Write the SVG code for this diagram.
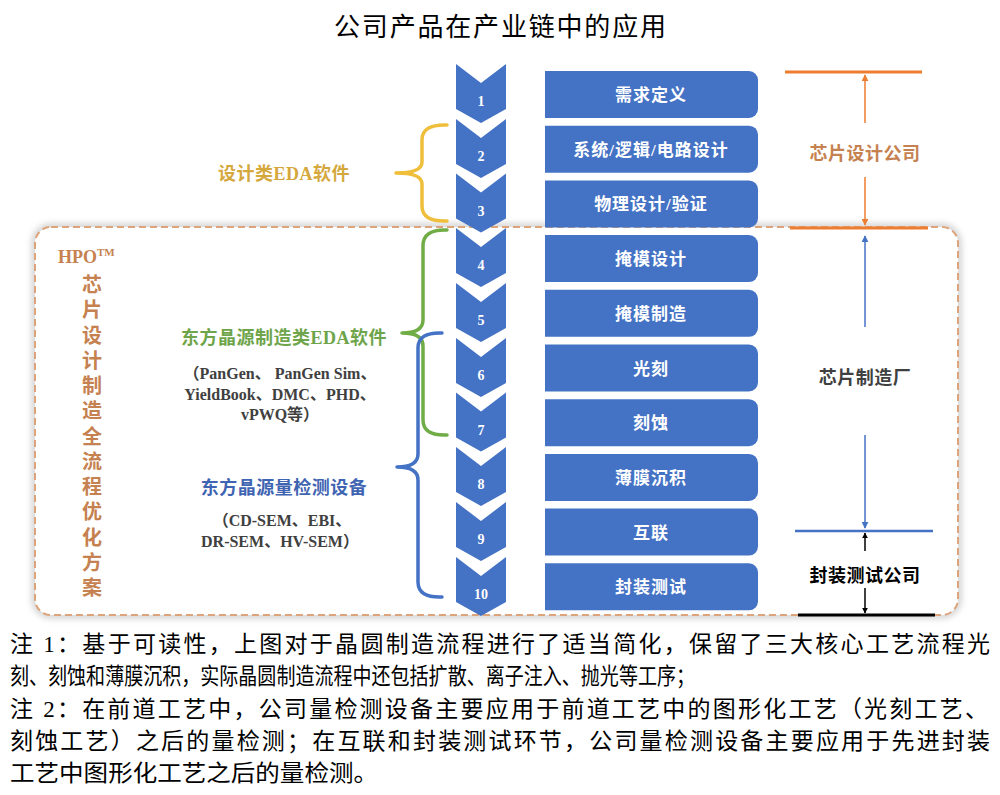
<svg xmlns="http://www.w3.org/2000/svg" width="1000" height="795" viewBox="0 0 1000 795">
<defs>
<style>
.chev{fill:#4472C4}
.box{fill:#4472C4}
.num{font-family:"Liberation Serif","Noto Sans CJK SC",serif;font-weight:bold;font-size:14px;fill:#fff;text-anchor:middle}
.lbl{font-family:"Liberation Serif","Noto Sans CJK SC",serif;font-weight:bold;font-size:17px;fill:#fff;text-anchor:middle;letter-spacing:1px}
.side{font-family:"Liberation Serif","Noto Sans CJK SC",serif;font-weight:bold;font-size:18px;text-anchor:middle;letter-spacing:0.5px}
.sub{font-family:"Liberation Serif","Noto Sans CJK SC",serif;font-weight:bold;font-size:16px;fill:#404040;text-anchor:middle}
.vert{font-family:"Liberation Serif","Noto Sans CJK SC",serif;font-weight:bold;font-size:20px;fill:#C5814F;text-anchor:middle}
.note{font-family:"Liberation Serif","Noto Sans CJK SC",serif;font-size:23px;fill:#000}
.brace{fill:none;stroke-width:3.5;stroke-linecap:round;stroke-linejoin:round}
</style>
<path id="chevShape" d="M0,0 L25,19 L50,0 L50,45 L25,59 L0,45 Z"/>
<path id="boxShape" d="M0,0 H204 A9,9 0 0 1 213,9 V38 A9,9 0 0 1 204,47 H0 Z"/>
<marker id="arrO" viewBox="0 0 10 10" refX="9" refY="5" markerWidth="7" markerHeight="7" markerUnits="userSpaceOnUse" orient="auto"><path d="M0,0 L10,5 L0,10 Z" fill="#ED7D31"/></marker>
<marker id="arrB" viewBox="0 0 10 10" refX="9" refY="5" markerWidth="7" markerHeight="7" markerUnits="userSpaceOnUse" orient="auto"><path d="M0,0 L10,5 L0,10 Z" fill="#4472C4"/></marker>
<marker id="arrK" viewBox="0 0 10 10" refX="9" refY="5" markerWidth="6" markerHeight="6" markerUnits="userSpaceOnUse" orient="auto"><path d="M0,0 L10,5 L0,10 Z" fill="#000"/></marker>
<filter id="shadow" x="-5%" y="-5%" width="110%" height="110%"><feGaussianBlur stdDeviation="3"/></filter>
</defs>
<rect width="1000" height="795" fill="#fff"/>

<text x="500" y="36" font-family="Noto Sans CJK SC, sans-serif" font-size="26" fill="#000" text-anchor="middle" textLength="332" lengthAdjust="spacing">公司产品在产业链中的应用</text>

<g id="hpo-frame">
<rect x="35" y="227" width="923" height="388" rx="16" fill="none" stroke="#d0d0d0" stroke-width="7" filter="url(#shadow)"/>
<rect x="35" y="227" width="923" height="388" rx="16" fill="#fff" stroke="#DDA47C" stroke-width="2" stroke-dasharray="7 4"/>
</g>

<g id="hpo-label">
<text x="58" y="263" font-family="Liberation Serif, serif" font-weight="bold" font-size="18" fill="#C5814F">HPO<tspan dy="-7" font-size="11">TM</tspan></text>
<text class="vert" x="92" y="292">芯</text>
<text class="vert" x="92" y="317">片</text>
<text class="vert" x="92" y="342.5">设</text>
<text class="vert" x="92" y="368">计</text>
<text class="vert" x="92" y="393">制</text>
<text class="vert" x="92" y="418">造</text>
<text class="vert" x="92" y="443.5">全</text>
<text class="vert" x="92" y="469">流</text>
<text class="vert" x="92" y="494">程</text>
<text class="vert" x="92" y="519">优</text>
<text class="vert" x="92" y="544.5">化</text>
<text class="vert" x="92" y="570">方</text>
<text class="vert" x="92" y="595">案</text>
</g>

<g id="step1"><use href="#chevShape" class="chev" x="456" y="64"/><text class="num" x="481" y="106">1</text><use href="#boxShape" class="box" x="545" y="71"/><text class="lbl" x="651" y="101">需求定义</text></g>
<g id="step2"><use href="#chevShape" class="chev" x="456" y="119"/><text class="num" x="481" y="161">2</text><use href="#boxShape" class="box" x="545" y="125.7"/><text class="lbl" x="651" y="155.7">系统/逻辑/电路设计</text></g>
<g id="step3"><use href="#chevShape" class="chev" x="456" y="173.5"/><text class="num" x="481" y="215.5">3</text><use href="#boxShape" class="box" x="545" y="180.4"/><text class="lbl" x="651" y="210.4">物理设计/验证</text></g>
<g id="step4"><use href="#chevShape" class="chev" x="456" y="228"/><text class="num" x="481" y="270">4</text><use href="#boxShape" class="box" x="545" y="235.1"/><text class="lbl" x="651" y="265.1">掩模设计</text></g>
<g id="step5"><use href="#chevShape" class="chev" x="456" y="283"/><text class="num" x="481" y="325">5</text><use href="#boxShape" class="box" x="545" y="289.8"/><text class="lbl" x="651" y="319.8">掩模制造</text></g>
<g id="step6"><use href="#chevShape" class="chev" x="456" y="338"/><text class="num" x="481" y="380">6</text><use href="#boxShape" class="box" x="545" y="344.5"/><text class="lbl" x="651" y="374.5">光刻</text></g>
<g id="step7"><use href="#chevShape" class="chev" x="456" y="392.5"/><text class="num" x="481" y="434.5">7</text><use href="#boxShape" class="box" x="545" y="399.2"/><text class="lbl" x="651" y="429.2">刻蚀</text></g>
<g id="step8"><use href="#chevShape" class="chev" x="456" y="447"/><text class="num" x="481" y="489">8</text><use href="#boxShape" class="box" x="545" y="453.9"/><text class="lbl" x="651" y="483.9">薄膜沉积</text></g>
<g id="step9"><use href="#chevShape" class="chev" x="456" y="502"/><text class="num" x="481" y="544">9</text><use href="#boxShape" class="box" x="545" y="508.6"/><text class="lbl" x="651" y="538.6">互联</text></g>
<g id="step10"><use href="#chevShape" class="chev" x="456" y="557"/><text class="num" x="481" y="599">10</text><use href="#boxShape" class="box" x="545" y="563.3"/><text class="lbl" x="651" y="593.3">封装测试</text></g>

<g id="brace-design">
<path class="brace" stroke="#EFBE3A" d="M447,125 Q422,124 422,140 L422,162 Q422,173 396,173 Q422,173 422,184 L422,206 Q422,222 447,221"/>
<text class="side" x="284" y="180" fill="#D4A83C">设计类EDA软件</text>
</g>
<g id="brace-mfg">
<path class="brace" stroke="#70AD47" d="M447,230 Q423,229 423,246 L423,320 Q423,333 402,333 Q423,333 423,346 L423,420 Q423,436 447,435"/>
<text class="side" x="284" y="344" fill="#6EA44A">东方晶源制造类EDA软件</text>
<text class="sub" x="280" y="379">（PanGen、 PanGen Sim、</text>
<text class="sub" x="280" y="400">YieldBook、DMC、PHD、</text>
<text class="sub" x="280" y="420">vPWQ等）</text>
</g>
<g id="brace-metro">
<path class="brace" stroke="#4472C4" d="M442,333 Q418,332 418,348 L418,454 Q418,467 397,467 Q418,467 418,480 L418,582 Q418,598 442,597"/>
<text class="side" x="284" y="494" fill="#3F64B2">东方晶源量检测设备</text>
<text class="sub" x="282" y="526">（CD-SEM、EBI、</text>
<text class="sub" x="280" y="547">DR-SEM、HV-SEM）</text>
</g>

<g id="connectors">
<line x1="785" y1="72" x2="922" y2="72" stroke="#ED7D31" stroke-width="3"/>
<line x1="865" y1="123" x2="865" y2="75" stroke="#ED7D31" stroke-width="1.5" marker-end="url(#arrO)"/>
<line x1="865" y1="177" x2="865" y2="225" stroke="#ED7D31" stroke-width="1.5" marker-end="url(#arrO)"/>
<line x1="790" y1="228" x2="928" y2="228" stroke="#ED7D31" stroke-width="3"/>
<line x1="865" y1="327" x2="865" y2="236" stroke="#4472C4" stroke-width="1.5" marker-end="url(#arrB)"/>
<line x1="865" y1="435" x2="865" y2="528" stroke="#4472C4" stroke-width="1.5" marker-end="url(#arrB)"/>
<line x1="795" y1="531" x2="933" y2="531" stroke="#4472C4" stroke-width="2.5"/>
<line x1="865" y1="551" x2="865" y2="533" stroke="#000" stroke-width="1.5" marker-end="url(#arrK)"/>
<line x1="865" y1="588" x2="865" y2="613" stroke="#000" stroke-width="1.5" marker-end="url(#arrK)"/>
<line x1="798" y1="615" x2="935" y2="615" stroke="#000" stroke-width="3"/>
</g>

<g id="labels-right">
<text class="side" x="865" y="160" fill="#C5814F">芯片设计公司</text>
<text class="side" x="865" y="384" fill="#404040">芯片制造厂</text>
<text class="side" x="865" y="582" fill="#000">封装测试公司</text>
</g>

<g id="notes">
<text class="note" x="10" y="652" textLength="980" lengthAdjust="spacing">注 1：基于可读性，上图对于晶圆制造流程进行了适当简化，保留了三大核心工艺流程光</text>
<text class="note" x="10" y="684" textLength="685" lengthAdjust="spacingAndGlyphs">刻、刻蚀和薄膜沉积，实际晶圆制造流程中还包括扩散、离子注入、抛光等工序；</text>
<text class="note" x="10" y="717" textLength="978" lengthAdjust="spacing">注 2：在前道工艺中，公司量检测设备主要应用于前道工艺中的图形化工艺（光刻工艺、</text>
<text class="note" x="10" y="749" textLength="980" lengthAdjust="spacing">刻蚀工艺）之后的量检测；在互联和封装测试环节，公司量检测设备主要应用于先进封装</text>
<text class="note" x="10" y="781" textLength="368" lengthAdjust="spacingAndGlyphs">工艺中图形化工艺之后的量检测。</text>
</g>
</svg>
